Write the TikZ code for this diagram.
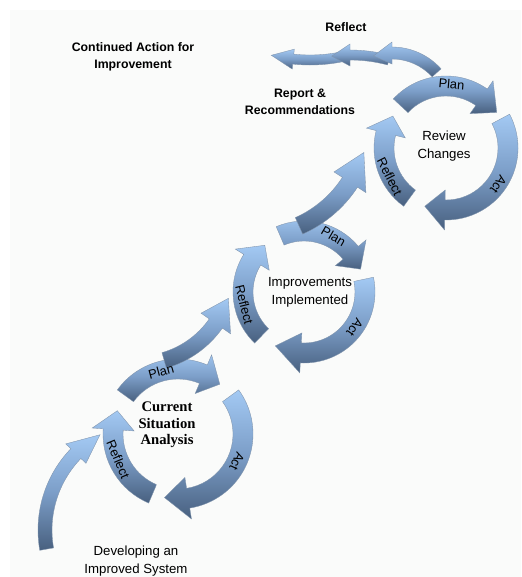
\documentclass[tikz,border=0pt]{standalone}
\usepackage{fontspec}
\setmainfont{Liberation Sans}
\newfontfamily\serifface{Liberation Serif}

\definecolor{arrowlight}{RGB}{163,201,243}
\definecolor{arrowmid}{RGB}{124,158,200}
\definecolor{arrowdark}{RGB}{72,96,127}
\definecolor{arrowedge}{RGB}{128,148,172}
\definecolor{paper}{RGB}{250,251,250}

\tikzset{
  arrowshade/.style={top color=arrowlight, bottom color=arrowdark, middle color=arrowmid,
    draw=arrowedge, line width=0.3pt},
  arclabel/.style={font=\fontsize{11}{11}\selectfont, inner sep=0pt},
  heading/.style={font=\bfseries\fontsize{10.5}{14.5}\selectfont, align=center},
  caption/.style={font=\fontsize{11.3}{15.2}\selectfont, align=center},
}

% band arrow on a circle: centre, radius, half width, tail, base of head, tip, head half width
\newcommand{\cyclearrow}[7]{%
  \pgfmathsetmacro\rout{#2+#3}\pgfmathsetmacro\rin{#2-#3}%
  \pgfmathsetmacro\hout{#2+#7}\pgfmathsetmacro\hin{#2-#7}%
  \shade[arrowshade, shift={(#1)}] (#4:\rout) arc[start angle=#4, end angle=#5, radius=\rout]
    -- (#5:\hout) -- (#6:#2) -- (#5:\hin) -- (#5:\rin)
    arc[start angle=#5, end angle=#4, radius=\rin] -- cycle;
}

\begin{document}
\begin{tikzpicture}[x=0.03cm, y=-0.03cm]
\useasboundingbox (0,0) rectangle (521,577);
\fill[paper] (10,10) rectangle (521,577);

% centres of the cycles
\coordinate (cur) at (178,434);
\coordinate (imp) at (304,292);
\coordinate (rev) at (446,148);
% centres of the linking arrows
\coordinate (devc) at (155,530);
\coordinate (linka) at (138,269);
\coordinate (linkb) at (251,118);
\coordinate (ret1) at (392,113);
\coordinate (ret2) at (350,205);
\coordinate (ret3) at (310,-100);

% plan, act, reflect
\cyclearrow{cur}{65}{10}{216}{293}{310}{21}
\cyclearrow{cur}{65}{10}{324}{441}{462}{21}
\cyclearrow{cur}{65}{10}{473}{544}{561}{21}

\cyclearrow{imp}{61}{10}{247}{320}{338}{20}
\cyclearrow{imp}{61}{10}{348}{453}{478}{20}
\cyclearrow{imp}{61}{10}{134}{212}{230}{20}

\cyclearrow{rev}{62}{10}{223}{305}{325}{20}
\cyclearrow{rev}{62}{10}{332}{451}{470}{20}
\cyclearrow{rev}{62}{10}{126}{194}{211}{20}

% links between the cycles
\cyclearrow{devc}{110}{7}{170}{224}{240}{14}
\cyclearrow{linka}{95}{8}{74}{35}{18}{18}
\cyclearrow{linkb}{118}{9}{66}{33}{17}{19}

% the way back
\cyclearrow{ret3}{160}{5}{77}{96}{104}{10}
\cyclearrow{ret2}{150}{5}{285}{270}{263}{11}
\cyclearrow{ret1}{60}{6}{318}{270}{252}{11}

% labels on the arrows
\node[arclabel, rotate=15] (curplan) at ([shift={(255:65)}]cur) {Plan};
\node[arclabel, rotate=-115] (curact) at ([shift={(25:65)}]cur) {Act};
\node[arclabel, rotate=-67] (curref) at ([shift={(157:65)}]cur) {Reflect};

\node[arclabel, rotate=-30] (impplan) at ([shift={(298:63)}]imp) {Plan};
\node[arclabel, rotate=-125] (impact) at ([shift={(35:62)}]imp) {Act};
\node[arclabel, rotate=-76] (impref) at ([shift={(168:61)}]imp) {Reflect};

\node[arclabel, rotate=-5] (revplan) at ([shift={(275:64)}]rev) {Plan};
\node[arclabel, rotate=-125] (revact) at ([shift={(35:64)}]rev) {Act};
\node[arclabel, rotate=-63] (revref) at ([shift={(153:63)}]rev) {Reflect};

% texts
\node[font=\serifface\bfseries\fontsize{12.5}{14}\selectfont, align=center] (curtxt) at (167,425) {Current\\Situation\\Analysis};
\node[caption] (imptxt) at (310,292) {Improvements\\Implemented};
\node[caption] (revtxt) at (444,146) {Review\\Changes};
\node[heading] (conttxt) at (133,57) {Continued Action for\\Improvement};
\node[heading] (reftxt) at (346,27) {Reflect};
\node[heading] (reptxt) at (300,102) {Report \&\\Recommendations};
\node[caption] (devtxt) at (136,561) {Developing an\\Improved System};
\end{tikzpicture}
\end{document}
